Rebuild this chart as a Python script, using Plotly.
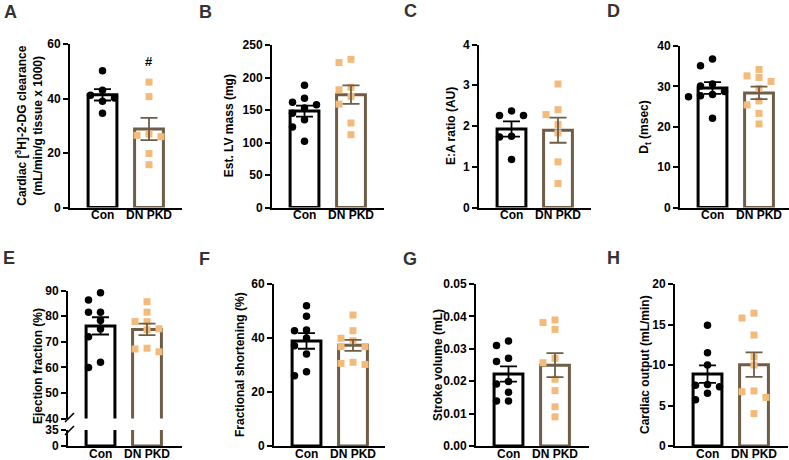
import numpy as np
import plotly.graph_objects as go

# ---------------- data ----------------
categories = ["Con", "DN PKD"]

a_con = [50.2, 43.0, 41.2, 40.2, 39.0, 34.6]
a_dn = [46.0, 40.7, 27.0, 26.5, 26.0, 19.8, 15.7]
b_con = [188, 168, 162, 158, 153, 145, 135, 124, 102]
b_dn = [228, 223, 185, 181, 171, 159, 130, 112]
c_con = [2.37, 2.26, 2.26, 1.75, 1.73, 1.18]
c_dn = [3.03, 2.40, 2.28, 2.04, 1.83, 1.12, 0.59]
d_con = [36.8, 35.1, 30.6, 30.1, 28.7, 28.0, 27.7, 27.4, 22.1]
d_dn = [34.2, 32.6, 32.2, 31.2, 29.5, 26.4, 25.4, 23.3, 20.7]
e_con = [89.2, 86.4, 81.6, 81.6, 78.3, 75.0, 72.0, 62.0, 60.0]
e_dn = [85.7, 81.6, 77.9, 77.9, 75.1, 74.7, 67.5, 67.2, 66.1]
f_con = [51.9, 48.1, 43.0, 42.7, 40.0, 37.1, 34.1, 27.5, 26.0]
f_dn = [48.5, 42.7, 39.9, 39.0, 36.8, 36.8, 31.0, 30.6, 30.2]
g_con = [0.0324, 0.0310, 0.0271, 0.0261, 0.0199, 0.0191, 0.0166, 0.0139, 0.0139]
g_dn = [0.0389, 0.0381, 0.0360, 0.0271, 0.0257, 0.0206, 0.0171, 0.0121, 0.0090]
h_con = [14.9, 11.5, 10.0, 7.6, 7.5, 7.3, 6.5, 5.7]
h_dn = [16.4, 15.8, 13.7, 11.0, 10.0, 6.8, 6.7, 6.0, 4.0]

a_ticks = [0, 20, 40, 60]
b_ticks = [0, 50, 100, 150, 200, 250]
c_ticks = [0, 1, 2, 3, 4]
d_ticks = [0, 10, 20, 30, 40]
e_ticks_upper = [40, 50, 60, 70, 80, 90]
e_ticks_lower = [0, 35]
f_ticks = [0, 20, 40, 60]
g_ticks = [0.00, 0.01, 0.02, 0.03, 0.04, 0.05]
h_ticks = [0, 5, 10, 15, 20]

a_title = "Cardiac [<sup>3</sup>H]-2-DG clearance<br>(mL/min/g tissue x 1000)"
b_title = "Est. LV mass (mg)"
c_title = "E:A ratio (AU)"
d_title = "D<sub>t</sub> (msec)"
e_title = "Ejection fraction (%)"
f_title = "Fractional shortening (%)"
g_title = "Stroke volume (mL)"
h_title = "Cardiac output (mL/min)"
panel_letters = ["A", "B", "C", "D", "E", "F", "G", "H"]
sig_label = "#"
sig_value = 53.5

# ---------------- styling / geometry ----------------
W, H = 789, 460
UNIT = 46.5      # px between category centres
LPAD = 32.5      # px from y-axis to first category centre
BAR_W = 0.62
CON_LINE = "#000000"
DN_LINE = "#6f5d47"
DN_PT = "#f3ba7a"
FONT = "Liberation Sans, Arial, sans-serif"
TICK_SIZE = 12
TITLE_SIZE = 12
CAT_SIZE = 12

def tfont(size, color="black"):
    return dict(family=FONT, size=size, color=color, weight="bold")

# key, con, dn, axis x px, width px, top px, bottom px, range, ticks, ticktext,
# title, title x px, title y px (None = centred), show x labels
panels = [
    ("A", a_con, a_dn, 70, 112, 44.0, 207.5, [0, 60], a_ticks, None, a_title, 29, None, True),
    ("B", b_con, b_dn, 272, 112, 45.0, 207.5, [0, 250], b_ticks, None, b_title, 229, None, True),
    ("C", c_con, c_dn, 479, 112, 44.5, 207.5, [0, 4], c_ticks, None, c_title, 451, None, True),
    ("D", d_con, d_dn, 680, 109, 46.0, 207.5, [0, 40], d_ticks, None, d_title, 645, None, True),
    ("Eu", e_con, e_dn, 68, 114, 290.7, 418.5, [40, 90], e_ticks_upper, None, e_title, 38, 366, False),
    ("El", e_con, e_dn, 68, 114, 430.0, 446.0, [0, 35], e_ticks_lower, None, None, 0, None, True),
    ("F", f_con, f_dn, 274, 111, 284.0, 446.0, [0, 60], f_ticks, None, f_title, 240, None, True),
    ("G", g_con, g_dn, 476, 113, 284.0, 446.0, [0, 0.05], g_ticks,
     ["%.2f" % v for v in g_ticks], g_title, 438, None, True),
    ("H", h_con, h_dn, 675, 113, 284.0, 446.0, [0, 20], h_ticks, None, h_title, 645, None, True),
]


def swarm(vals, ppu_y, ppu_x, step=12.0, diam=8.0):
    placed = []
    res = [0.0] * len(vals)
    order = sorted(range(len(vals)), key=lambda i: -vals[i])
    for i in order:
        y = vals[i] * ppu_y
        xk = 0.0
        for k in [0, -1, 1, -2, 2, -3, 3]:
            xk = k * step
            if all((xk - px) ** 2 + (y - py) ** 2 >= diam ** 2 for px, py in placed):
                break
        placed.append((xk, y))
        res[i] = xk / ppu_x
    return res


fig = go.Figure()
layout = {}
annotations = []

for idx, (key, con, dn, x0, w, ytop, ybot, yr, tv, tt, title, tx, ty, showx) in enumerate(panels):
    n = "" if idx == 0 else str(idx + 1)
    xa, ya = "x" + n, "y" + n
    lo = -LPAD / UNIT
    hi = lo + w / UNIT
    ppu_y = (ybot - ytop) / (yr[1] - yr[0])

    layout["xaxis" + n] = dict(
        domain=[x0 / W, min((x0 + w) / W, 1.0)], range=[lo, hi], anchor=ya,
        showline=showx, linecolor="black", linewidth=2, ticks="",
        showticklabels=False, showgrid=False, zeroline=False, fixedrange=True,
        automargin=False,
    )
    layout["yaxis" + n] = dict(
        domain=[1 - ybot / H, 1 - ytop / H], range=yr, anchor=xa,
        showline=True, linecolor="black", linewidth=2,
        ticks="outside", ticklen=5, tickwidth=1.7, tickcolor="black",
        tickvals=tv, ticktext=tt, tickfont=tfont(TICK_SIZE),
        showgrid=False, zeroline=False, fixedrange=True, automargin=False,
    )

    if showx:
        for ci, cat in enumerate(categories):
            annotations.append(dict(text=cat, x=ci, y=1 - (ybot + 7.5) / H, xref=xa, yref="paper",
                                    showarrow=False, xanchor="center", yanchor="middle",
                                    borderpad=0, font=tfont(CAT_SIZE)))
    if title:
        yc = (ytop + ybot) / 2 if ty is None else ty
        annotations.append(dict(text=title, x=tx / W, y=1 - yc / H, xref="paper", yref="paper",
                                textangle=-90, showarrow=False, xanchor="center", yanchor="middle",
                                font=tfont(TITLE_SIZE)))

    draw_points = key != "El"
    for gi, (vals, lc, pc, sym, sz) in enumerate(
        [(con, CON_LINE, "black", "circle", 7.5), (dn, DN_LINE, DN_PT, "square", 7)]
    ):
        m = float(np.mean(vals))
        sem = float(np.std(vals, ddof=1) / np.sqrt(len(vals)))
        fig.add_trace(go.Bar(
            x=[gi], y=[m], width=BAR_W, xaxis=xa, yaxis=ya,
            marker=dict(color="white", line=dict(color=lc, width=3)),
            hoverinfo="skip",
        ))
        if draw_points:
            offs = swarm(vals, ppu_y, UNIT)
            fig.add_trace(go.Scatter(
                x=[gi + o for o in offs], y=vals, mode="markers", xaxis=xa, yaxis=ya,
                marker=dict(color=pc, symbol=sym, size=sz, line=dict(width=0)),
                cliponaxis=False, hoverinfo="skip",
            ))
            fig.add_trace(go.Scatter(
                x=[gi], y=[m], mode="markers", xaxis=xa, yaxis=ya,
                marker=dict(size=1, opacity=0),
                error_y=dict(type="data", array=[sem], color=lc, thickness=1.8, width=8.5),
                hoverinfo="skip",
            ))

# panel letters
letter_pos = [(10, 12), (205, 12), (410, 11), (613, 11), (9, 258), (204, 259), (410, 259), (613, 258)]
for lt, (lx, ly) in zip(panel_letters, letter_pos):
    annotations.append(dict(text=lt, x=lx / W, y=1 - ly / H, xref="paper", yref="paper",
                            showarrow=False, xanchor="center", yanchor="middle",
                            font=tfont(18, "#333333")))
# significance marker in A
annotations.append(dict(text=sig_label, x=1, y=sig_value, xref="x", yref="y",
                        showarrow=False, font=tfont(13)))

# axis break marks for E
shapes = []
ex = 68
for yb in (417.5, 430.5):
    shapes.append(dict(type="line", xref="paper", yref="paper",
                       x0=(ex - 3) / W, x1=(ex + 6) / W, y0=1 - (yb + 4.5) / H, y1=1 - (yb - 4.5) / H,
                       line=dict(color="black", width=1.6)))

layout.update(dict(
    width=W, height=H, margin=dict(l=0, r=0, t=0, b=0, pad=0, autoexpand=False),
    paper_bgcolor="white", plot_bgcolor="white", showlegend=False,
    barmode="overlay", annotations=annotations, shapes=shapes,
    font=dict(family=FONT, color="black"),
))
fig.update_layout(**layout)
fig.write_html("out.html", config={"displayModeBar": False},
               post_script="document.body.style.margin='0px';document.body.style.overflow='hidden';")
